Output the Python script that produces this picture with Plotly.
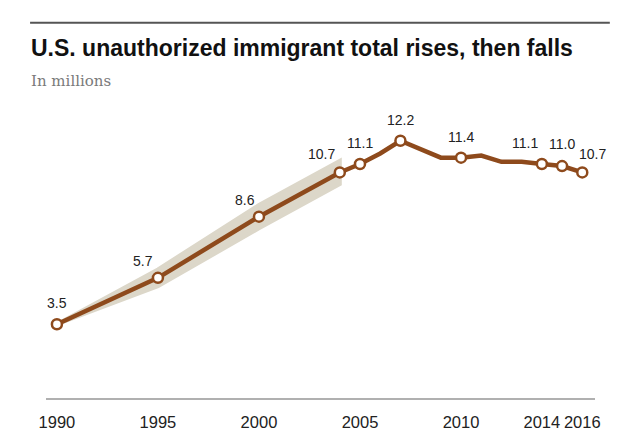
import plotly.graph_objects as go

# ── Palette ────────────────────────────────────────────────────────────────────
LINE = "#8E4A1C"
BAND = "#DCD7C9"
TXT = "#222222"
SUB = "#7a7a7a"
AXIS = "#b0b0b0"
SANS = "Liberation Sans, Arial, sans-serif"

# ── Data (millions) ───────────────────────────────────────────────────────────
years = [1990, 1995, 2000, 2004, 2005, 2006, 2007, 2008, 2009, 2010,
         2011, 2012, 2013, 2014, 2015, 2016]
total = [3.5, 5.7, 8.6, 10.7, 11.1, 11.6, 12.2, 11.8, 11.4, 11.4,
         11.5, 11.2, 11.2, 11.1, 11.0, 10.7]

# years that get a marker + value label
label_years = [1990, 1995, 2000, 2004, 2005, 2007, 2010, 2014, 2015, 2016]

# shaded uncertainty range (early estimates)
band_years = [1990, 1995, 2000, 2004]
band_low = [3.5, 5.3, 8.05, 10.15]
band_high = [3.5, 6.1, 9.15, 11.25]

tick_years = [1990, 1995, 2000, 2005, 2010, 2014, 2016]

# label nudges in px (x, y above marker)
label_shift = {1990: (0, 21), 1995: (-15, 17), 2000: (-14, 17), 2004: (-18, 18),
               2005: (0, 21), 2007: (0, 21), 2010: (0, 21), 2014: (-17, 21),
               2015: (0, 22), 2016: (10, 18)}

fig = go.Figure()

# band
fig.add_trace(go.Scatter(
    x=band_years + band_years[::-1],
    y=band_high + band_low[::-1],
    fill="toself", fillcolor=BAND, mode="lines",
    line=dict(color=BAND, width=4),
    hoverinfo="skip", showlegend=False,
))

# main line
fig.add_trace(go.Scatter(
    x=years, y=total, mode="lines",
    line=dict(color=LINE, width=4.5),
    hoverinfo="skip", showlegend=False,
))

# markers
mk_y = [total[years.index(y)] for y in label_years]
fig.add_trace(go.Scatter(
    x=label_years, y=mk_y, mode="markers",
    marker=dict(size=10, color="white", line=dict(color=LINE, width=2.5)),
    hovertemplate="%{x}: %{y} million<extra></extra>",
    showlegend=False,
))

for yr, v in zip(label_years, mk_y):
    dx, dy = label_shift[yr]
    fig.add_annotation(
        x=yr, y=v, text=f"{v:.1f}", showarrow=False,
        xshift=dx, yshift=dy, yanchor="middle",
        font=dict(size=14, color=TXT, family=SANS),
    )

# title block (page has an 8px body margin, so figure is drawn at 8,8)
fig.add_shape(type="line", xref="paper", yref="paper",
              x0=-0.029, x1=1.027, y0=1.303, y1=1.303,
              line=dict(color="#555555", width=2.2))
fig.add_annotation(
    xref="paper", yref="paper", x=-0.031, y=1.214, xanchor="left", yanchor="middle",
    text="<b>U.S. unauthorized immigrant total rises, then falls</b>",
    showarrow=False,
    font=dict(size=23, color="#111111", family=SANS),
)
fig.add_annotation(
    xref="paper", yref="paper", x=-0.031, y=1.1, xanchor="left", yanchor="middle",
    text="In millions", showarrow=False,
    font=dict(size=15, color=SUB, family="DejaVu Serif, Liberation Serif, serif"),
)

fig.update_layout(
    width=632, height=435,
    paper_bgcolor="white", plot_bgcolor="white",
    margin=dict(l=38, r=45, t=102, b=43),
    showlegend=False,
)
fig.update_xaxes(
    range=[1989.46, 2016.63],
    tickvals=tick_years, ticktext=[str(t) for t in tick_years],
    tickfont=dict(size=16.5, color=TXT, family=SANS),
    ticks="outside", ticklen=8, tickcolor="rgba(0,0,0,0)",
    showgrid=False, zeroline=False,
    showline=True, linecolor=AXIS, linewidth=1.5,
)
fig.update_yaxes(
    range=[0, 13.66], visible=False, showgrid=False, zeroline=False,
)

fig.write_html("out.html")
